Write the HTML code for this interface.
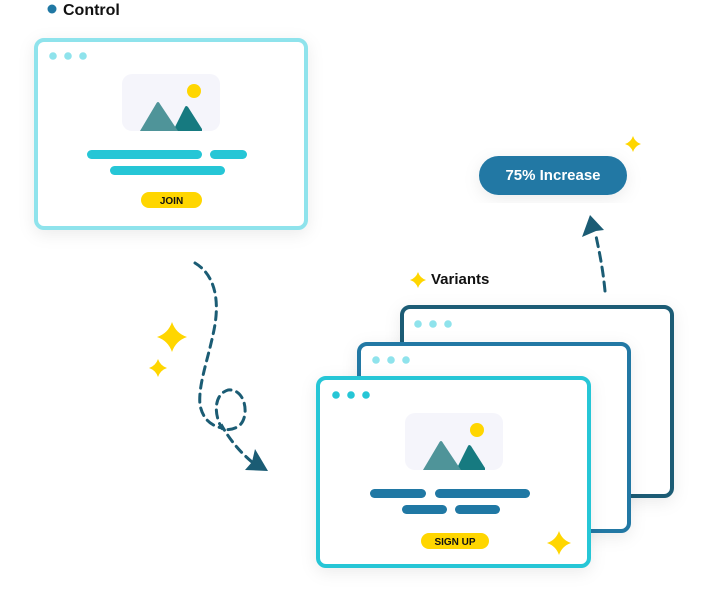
<!DOCTYPE html>
<html><head><meta charset="utf-8"><style>
html,body{margin:0;padding:0;background:#fff;width:708px;height:603px;overflow:hidden}
body{font-family:"Liberation Sans",sans-serif}
</style></head><body>
<svg width="708" height="603" viewBox="0 0 708 603" xmlns="http://www.w3.org/2000/svg">
<defs>
<filter id="sh" x="-20%" y="-20%" width="140%" height="140%"><feDropShadow dx="0" dy="4" stdDeviation="8" flood-color="#000" flood-opacity="0.08"/></filter>
<g id="mnt">
<rect x="0" y="0" width="98" height="57" rx="10" fill="#f5f5fb"/>
<circle cx="72" cy="17" r="7" fill="#ffd600"/>
<path d="M51 57 L63 33 Q64 31 66 33 L80 55 L80 57Z" fill="#167a80"/>
<path d="M18 57 L34 30 Q36 26 38 30 L56 57Z" fill="#4f9499"/>
</g>
<path id="star" d="M0 -1 Q0.25 -0.25 1 0 Q0.25 0.25 0 1 Q-0.25 0.25 -1 0 Q-0.25 -0.25 0 -1Z" fill="#ffd600"/>
</defs>

<circle cx="52" cy="9" r="4.5" fill="#2078a4"/>
<text x="63" y="15" font-size="16" font-weight="bold" fill="#111">Control</text>

<rect x="36" y="40" width="270" height="188" rx="8" fill="#fff" stroke="#8fe3ec" stroke-width="4" filter="url(#sh)"/>
<circle cx="53" cy="56" r="3.8" fill="#8fe3ec"/><circle cx="68" cy="56" r="3.8" fill="#8fe3ec"/><circle cx="83" cy="56" r="3.8" fill="#8fe3ec"/>
<use href="#mnt" x="122" y="74"/>
<rect x="87" y="150" width="115" height="9" rx="4.5" fill="#26c6d6"/>
<rect x="210" y="150" width="37" height="9" rx="4.5" fill="#26c6d6"/>
<rect x="110" y="166" width="115" height="9" rx="4.5" fill="#26c6d6"/>
<rect x="141" y="192" width="61" height="16" rx="8" fill="#ffd600"/>
<text x="171.5" y="204" font-size="10" font-weight="bold" text-anchor="middle" fill="#111">JOIN</text>

<path d="M195 263 C215 275 220 300 214 330 C208 360 198 385 200 405 C203 420 212 426 222 428 C215 418 212 395 228 390 C245 388 250 415 240 425 C232 432 218 430 222 426 C230 440 240 452 252 462" fill="none" stroke="#1b5c74" stroke-width="3" stroke-dasharray="8 6" stroke-linecap="round"/>
<path d="M255 449 L268 471 L245 470 L252 462Z" fill="#1b5c74"/>

<use href="#star" transform="translate(172,337) scale(15)"/>
<use href="#star" transform="translate(158,368) scale(9)"/>

<rect x="479" y="156" width="148" height="39" rx="19.5" fill="#2078a4" filter="url(#sh)"/>
<text x="553" y="180" font-size="15" font-weight="bold" text-anchor="middle" fill="#fff">75% Increase</text>
<use href="#star" transform="translate(633,144) scale(8)"/>

<path d="M605 291 C603 270 600 255 596 236" fill="none" stroke="#1b5c74" stroke-width="3" stroke-dasharray="9 6" stroke-linecap="round"/>
<path d="M590 215 L604 230 L596 231 L582 237Z" fill="#1b5c74"/>

<use href="#star" transform="translate(418,280) scale(8)"/>
<text x="431" y="284" font-size="15" font-weight="bold" fill="#111">Variants</text>

<rect x="402" y="307" width="270" height="189" rx="8" fill="#fff" stroke="#1b5c74" stroke-width="4" filter="url(#sh)"/>
<circle cx="418" cy="324" r="3.8" fill="#8fe3ec"/><circle cx="433" cy="324" r="3.8" fill="#8fe3ec"/><circle cx="448" cy="324" r="3.8" fill="#8fe3ec"/>
<rect x="359" y="344" width="270" height="187" rx="8" fill="#fff" stroke="#2078a4" stroke-width="4" filter="url(#sh)"/>
<circle cx="376" cy="360" r="3.8" fill="#8fe3ec"/><circle cx="391" cy="360" r="3.8" fill="#8fe3ec"/><circle cx="406" cy="360" r="3.8" fill="#8fe3ec"/>
<rect x="318" y="378" width="271" height="188" rx="8" fill="#fff" stroke="#26c6d6" stroke-width="4" filter="url(#sh)"/>
<circle cx="336" cy="395" r="3.8" fill="#26c6d6"/><circle cx="351" cy="395" r="3.8" fill="#26c6d6"/><circle cx="366" cy="395" r="3.8" fill="#26c6d6"/>
<use href="#mnt" x="405" y="413"/>
<rect x="370" y="489" width="56" height="9" rx="4.5" fill="#2078a4"/>
<rect x="435" y="489" width="95" height="9" rx="4.5" fill="#2078a4"/>
<rect x="402" y="505" width="45" height="9" rx="4.5" fill="#2078a4"/>
<rect x="455" y="505" width="45" height="9" rx="4.5" fill="#2078a4"/>
<rect x="421" y="533" width="68" height="16" rx="8" fill="#ffd600"/>
<text x="455" y="545" font-size="10" font-weight="bold" text-anchor="middle" fill="#111">SIGN UP</text>
<use href="#star" transform="translate(559,543) scale(12)"/>
</svg>
</body></html>
